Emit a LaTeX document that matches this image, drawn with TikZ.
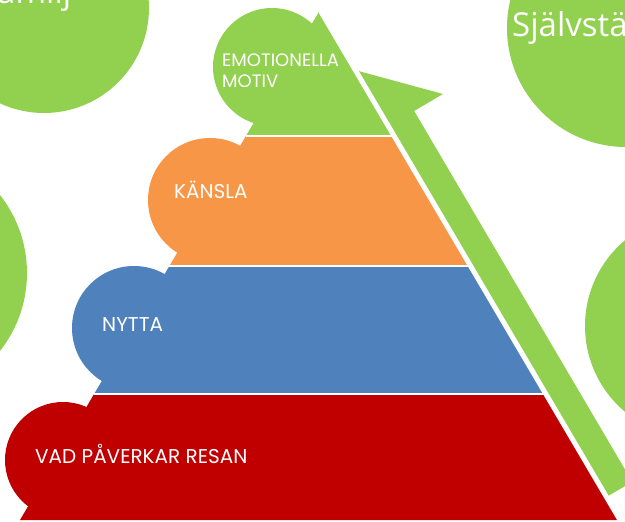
\documentclass[tikz,border=0pt]{standalone}
\usepackage{fontspec}
\setmainfont{Poppins}
\newfontfamily\bubblefont{Open Sans}

\definecolor{pgreen}{HTML}{92D050}
\definecolor{porange}{HTML}{F79646}
\definecolor{pblue}{HTML}{4F81BD}
\definecolor{pred}{HTML}{C00000}

\begin{document}
\begin{tikzpicture}[x=1pt,y=-1pt]
	\tikzstyle{layertext} = [text=white, anchor=base west, inner sep=0pt, font=\fontsize{20}{24}\selectfont]
	\tikzstyle{bubbletext} = [text=white, anchor=base west, inner sep=0pt, font=\bubblefont\fontsize{33}{38}\selectfont]
	\tikzstyle{bubble} = [fill=pgreen]

	\useasboundingbox (0,0) rectangle (625,522);
	\clip (0,0) rectangle (625,522);

%----------background bubbles--------------------------------
	\fill[bubble] (44,8) circle (105pt);
	\fill[bubble] (626,28) circle (119pt);
	\fill[bubble] (-99,273) circle (126pt);
	\fill[bubble] (697,326) circle (112pt);

	\node[bubbletext] (familj) at (-3,4) {amilj};
	\node[bubbletext] (sjalv) at (512,37) {Självstä};

%----------arrow along the right side------------------------
	\fill[pgreen] (606.4,497) -- (632.3,481.8) -- (414.2,111) -- (443,94)
		-- (340,66) -- (320,10) -- cycle;

%----------pyramid layers------------------------------------
	\coordinate (top) at (320,10);
	\coordinate (l1) at (245.9,136);  \coordinate (r1) at (394.1,136);
	\coordinate (l2) at (169.4,266);  \coordinate (r2) at (470.6,266);
	\coordinate (l3) at (94.1,394);   \coordinate (r3) at (545.9,394);
	\coordinate (l4) at (20,520);     \coordinate (r4) at (620,520);

	\fill[pgreen] (top) -- (r1) -- (l1) -- cycle;
	\fill[pgreen] (272,67) circle (59pt);

	\fill[porange] (l1) -- (r1) -- (r2) -- (l2) -- cycle;
	\fill[porange] (210,200) circle (62pt);

	\fill[pblue] (l2) -- (r2) -- (r3) -- (l3) -- cycle;
	\fill[pblue] (134,328) circle (62pt);

	\fill[pred] (l3) -- (r3) -- (r4) -- (l4) -- cycle;
	\fill[pred] (63,460) circle (58pt);

	% white seams
	\draw[white, line width=2.5pt] (l1) -- (r1);
	\draw[white, line width=2.5pt] (l2) -- (r2);
	\draw[white, line width=2.5pt] (l3) -- (r3);
	\draw[white, line width=5pt] (top) -- (r4);

%----------texts---------------------------------------------
	\node[layertext, align=left, font=\fontsize{18}{21}\selectfont] (emotiv) at (222,87) {EMOTIONELLA\\MOTIV};
	\node[layertext] (kaensla) at (174,198) {KÄNSLA};
	\node[layertext] (nytta) at (102,331) {NYTTA};
	\node[layertext] (resan) at (35,463) {VAD PÅVERKAR RESAN};
\end{tikzpicture}
\end{document}
